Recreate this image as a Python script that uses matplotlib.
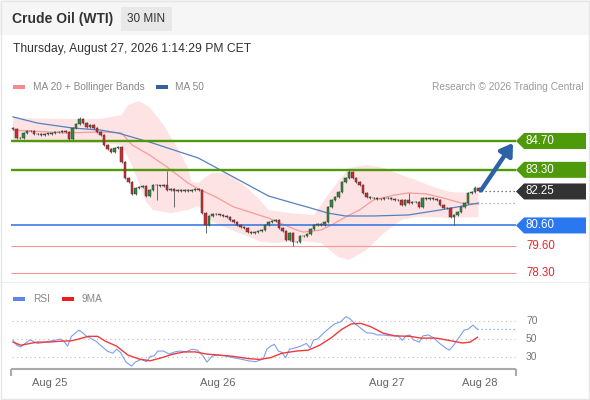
import numpy as np
import matplotlib.pyplot as plt
from matplotlib.patches import Polygon, Rectangle

plt.rcParams['font.family'] = ['Liberation Sans', 'DejaVu Sans']

# ---------------- data ----------------
# 30-min closes, Aug 25 -> Aug 27
closes = [85.28, 84.85, 84.83, 85.09, 85.19, 85.17, 85.04, 85.03, 84.99, 85.04,
          85.05, 85.09, 85.14, 85.12, 85.19, 85.14, 84.80, 85.33, 85.53, 85.77,
          85.58, 85.38, 85.48, 85.33, 85.14, 84.99, 84.51, 84.31, 84.17, 84.36,
          84.41, 83.68, 82.90, 82.71, 82.13, 82.42, 82.47, 82.52, 82.03, 82.32,
          82.56, 82.54, 82.52, 82.56, 82.32, 82.37, 82.27, 82.32, 82.28, 82.33,
          82.27, 82.32, 82.37, 82.32, 81.20, 80.62, 81.06, 81.16, 81.14, 81.11,
          81.06, 81.01, 80.87, 80.77, 80.62, 80.53, 80.48, 80.28, 80.23, 80.28,
          80.33, 80.38, 80.62, 80.77, 80.82, 80.87, 80.48, 80.33, 79.89, 80.23,
          79.80, 79.78, 80.09, 80.07, 80.19, 80.43, 80.62, 80.67, 80.62, 80.77,
          81.50, 81.84, 81.98, 82.22, 82.71, 82.90, 83.20, 82.90, 82.71, 82.56,
          82.18, 81.98, 81.93, 81.92, 81.88, 81.87, 81.93, 81.92, 81.88, 81.84,
          81.83, 81.59, 81.84, 81.69, 81.74, 81.73, 81.50, 81.93, 81.88, 81.93,
          81.88, 81.84, 81.59, 81.45, 81.44, 81.01, 81.11, 81.25, 81.50, 81.69,
          82.18, 82.22, 82.42, 82.25]
first_open = 85.35
long_highs = {0: 85.40, 19: 85.87, 41: 82.60, 44: 83.24, 96: 83.30, 113: 82.18, 132: 82.52}
long_lows = {1: 84.78, 41: 81.84, 46: 81.50, 55: 80.23, 80: 79.60, 125: 80.95, 126: 80.62}

ma20_idx = [0, 15, 25, 31, 34, 39, 44, 50, 53, 58, 63, 73, 81, 83, 88, 91, 95, 99, 103, 109, 113, 118, 123, 128, 133]
ma20_val = [85.23, 85.09, 85.14, 85.09, 84.51, 84.02, 83.44, 82.66, 82.37, 81.98, 81.50, 80.96, 80.38, 80.28,
            80.38, 80.62, 81.01, 81.35, 81.84, 82.08, 82.18, 82.13, 81.93, 81.69, 81.64]
ma50_idx = [0, 7, 17, 25, 30, 33, 39, 53, 63, 73, 81, 85, 90, 95, 103, 113, 122, 127, 133]
ma50_val = [85.87, 85.57, 85.33, 85.23, 85.09, 84.94, 84.65, 83.87, 82.95, 82.03, 81.64, 81.45, 81.20, 81.06,
            81.06, 81.11, 81.35, 81.50, 81.69]
bb_up_idx = [0, 13, 25, 31, 33, 36, 39, 43, 47, 50, 51, 53, 55, 57, 61, 66, 70, 73, 79, 86, 91, 96, 101, 106,
             111, 115, 120, 125, 133]
bb_up_val = [85.82, 85.77, 85.77, 85.96, 86.45, 86.64, 86.35, 85.48, 84.36, 83.39, 82.71, 82.66, 82.95, 83.15,
             83.15, 82.56, 81.93, 81.35, 81.20, 81.11, 82.32, 83.39, 83.53, 83.39, 83.05, 82.81, 82.47, 82.22, 82.18]
bb_lo_idx = [0, 13, 25, 31, 34, 38, 40, 45, 50, 53, 55, 57, 61, 66, 71, 75, 82, 88, 93, 96, 101, 106, 111, 115,
             120, 125, 133]
bb_lo_val = [84.65, 84.60, 84.60, 84.51, 83.53, 81.74, 81.35, 81.20, 81.35, 81.54, 81.25, 80.77, 80.48, 80.14,
             79.80, 79.75, 79.85, 79.75, 79.07, 78.92, 79.41, 80.23, 80.87, 81.01, 81.01, 80.96, 81.01]

levels = [84.70, 83.30, 82.25, 80.60, 79.60, 78.30]
level_kind = ['res', 'res', 'last', 'sup', 'minor', 'minor']

rsi_idx = [0, 1.1, 2.2, 3.8, 4.9, 5.9, 7.0, 8.6, 10.2, 11.9, 13.5, 14.5, 15.6, 16.7, 17.8, 18.8, 19.9, 21.0,
           22.1, 23.7, 25.3, 26.9, 28.5, 29.6, 30.7, 32.3, 33.9, 34.9, 36.6, 38.2, 39.2, 40.3, 41.4, 43.0, 44.6,
           46.2, 47.8, 49.5, 51.1, 52.7, 54.3, 55.4, 57.0, 58.6, 60.7, 62.9, 65.0, 67.2, 69.3, 71.5, 72.5, 73.6,
           74.7, 75.8, 76.8, 77.9, 79.0, 80.6, 82.2, 83.8, 84.9, 85.9, 87.0, 88.7, 90.3, 91.9, 93.5, 95.1, 96.2,
           97.8, 99.4, 101.0, 102.6, 104.2, 105.8, 108.0, 110.1, 111.2, 112.3, 113.4, 114.4, 116.1, 117.1, 118.7,
           120.3, 121.9, 123.6, 124.6, 125.7, 127.3, 128.9, 130.0, 131.4, 132.7]
rsi_val = [48.5, 43, 41, 46, 49, 47, 45, 46, 47.5, 48.5, 50, 47.5, 42, 53, 56.5, 60, 57, 53, 51, 47.5, 42, 36.5,
           34, 38.5, 35, 24, 19.5, 24, 27, 24.5, 30.5, 31, 36.5, 36.5, 33, 35.5, 36.5, 35.5, 38.5, 37.5, 31, 24,
           31, 32, 31, 29, 27.5, 25.5, 24.5, 27.5, 38.5, 42, 44, 36.5, 35, 29, 38.5, 40, 42, 45, 40, 49, 50, 56.5,
           62, 67, 69, 75, 73, 67, 62, 57, 56.5, 54.5, 54.5, 53.5, 53.5, 48.5, 53.5, 54.5, 49, 46.5, 53.5, 54.5,
           51, 45, 40, 37.5, 42, 51, 60, 61, 65.5, 61]
rsi_ma_idx = [0, 2.2, 4.9, 7.0, 10.2, 13.5, 16.7, 18.8, 21.5, 24.2, 26.4, 29.6, 32.8, 36.0, 39.2, 42.5, 45.7,
              48.9, 52.1, 55.4, 58.6, 62.9, 67.2, 70.4, 73.6, 76.8, 81.1, 84.4, 87.6, 90.8, 94.0, 96.7, 99.4,
              102.1, 105.8, 109.1, 113.4, 116.6, 120.9, 125.2, 128.4, 130.6, 132.7]
rsi_ma_val = [46.5, 43, 45, 46.5, 46.5, 47.5, 48, 50, 53, 53, 47.5, 42, 32, 27.5, 25.5, 29, 33, 35.5, 35.5, 33,
              32, 30.5, 28, 27, 29, 34, 36.5, 37.5, 43, 51, 61, 67, 67.5, 64, 56.5, 53.5, 53, 51, 51, 48, 45.5,
              46.5, 52]
rsi_grid = [70, 50, 30]
day_ticks = [10.6, 58.6, 106.9, 133.3]
day_labels = ['Aug 25', 'Aug 26', 'Aug 27', 'Aug 28']

# ---------------- layout helpers (pixels of the 590x400 card) ----------------
W, H = 590, 400
PX_PER_BAR = 3.5


def bx(px):
    # pixel x -> bar index
    return (px - 13) / PX_PER_BAR


def price_of(py):
    return 84.70 - (py - 141) / 20.6


def rsi_of(py):
    return 50 - (py - 339) / 0.89


fig = plt.figure(figsize=(W / 100, H / 100), dpi=100)
fig.patch.set_facecolor('white')

# card frame + header band
fig.patches.append(Rectangle((0, 1 - 35 / H), 1, 35 / H, transform=fig.transFigure,
                             facecolor='#f6f6f6', edgecolor='none', zorder=0))
fig.patches.append(Rectangle((1 / W, 1 / H), 1 - 2 / W, 1 - 2 / H, transform=fig.transFigure,
                             facecolor='none', edgecolor='#e6e6e6', lw=1, zorder=5))
fig.patches.append(Rectangle((0, 1 - 283 / H), 1, 0.6 / H, transform=fig.transFigure,
                             facecolor='#eeeeee', edgecolor='none', zorder=1))


def ftext(px, py, s, **kw):
    fig.text(px / W, 1 - py / H, s, **kw)


ftext(12, 19, 'Crude Oil (WTI)', fontsize=10, fontweight='bold', color='#333333', va='center')
fig.patches.append(Rectangle((121 / W, 1 - 31 / H), 51 / W, 24 / H, transform=fig.transFigure,
                             facecolor='#e8e8e8', edgecolor='none', zorder=1))
ftext(146.5, 19, '30 MIN', fontsize=8.5, color='#333333', va='center', ha='center')
ftext(13, 49, 'Thursday, August 27, 2026 1:14:29 PM CET', fontsize=8.7, color='#333333', va='center')

# top legend
fig.patches.append(Rectangle((13 / W, 1 - 88.5 / H), 12 / W, 4 / H, transform=fig.transFigure,
                             facecolor='#f88a8a', edgecolor='none'))
ftext(33, 86.5, 'MA 20 + Bollinger Bands', fontsize=7.3, color='#888888', va='center')
fig.patches.append(Rectangle((156 / W, 1 - 88.5 / H), 12 / W, 4 / H, transform=fig.transFigure,
                             facecolor='#33609e', edgecolor='none'))
ftext(175, 86.5, 'MA 50', fontsize=7.3, color='#888888', va='center')
ftext(583, 86.5, 'Research \u00a9 2026 Trading Central', fontsize=7.3, color='#999999', va='center', ha='right')

# ---------------- price panel ----------------
ax = fig.add_axes([10 / W, 1 - 280 / H, 578 / W, 180 / H])
ax.set_xlim(bx(10), bx(588))
ax.set_ylim(price_of(280), price_of(100))
ax.axis('off')

n = len(closes)
x = np.arange(n)
c = np.array(closes)
o = np.r_[first_open, c[:-1]]
hi = np.maximum(o, c) + 0.04
lo = np.minimum(o, c) - 0.04
for k, v in long_highs.items():
    hi[k] = v
for k, v in long_lows.items():
    lo[k] = v

# bollinger band + moving averages
ax.fill(np.r_[bb_up_idx, bb_lo_idx[::-1]], np.r_[bb_up_val, bb_lo_val[::-1]],
        color='#fde3e3', lw=0, zorder=1)
ax.plot(ma20_idx, ma20_val, color='#f59c9c', lw=0.9, zorder=2)
ax.plot(ma50_idx, ma50_val, color='#5580bf', lw=0.9, zorder=2)

# levels
x_tag = bx(516)
x_end = bx(586)
x_txt = bx(526)
for lv, kind in zip(levels, level_kind):
    if kind == 'res':
        ax.hlines(lv, bx(11), x_tag, color='#4f9a0a', lw=1.7, zorder=3)
        tag_col = '#4f9a0a'
    elif kind == 'sup':
        ax.hlines(lv, bx(11), x_tag, color='#3c7be0', lw=1.2, zorder=3)
        tag_col = '#2a78f0'
    elif kind == 'last':
        ax.hlines(lv, n - 0.2, x_tag, color='#555555', lw=0.9, linestyles=(0, (1, 2.2)), zorder=3)
        tag_col = '#333333'
    else:
        ax.hlines(lv, bx(11), x_tag, color='#f79494', lw=0.8, zorder=3)
        ax.text(x_txt, lv, f'{lv:.2f}', color='#e8262b', fontsize=8.3, va='center', ha='left')
        continue
    hh = 8 / 20.6
    notch = 8 / PX_PER_BAR
    ax.add_patch(Polygon([(x_tag, lv), (x_tag + notch, lv + hh), (x_end, lv + hh),
                          (x_end, lv - hh), (x_tag + notch, lv - hh)],
                         closed=True, facecolor=tag_col, edgecolor='none', zorder=4))
    ax.text(x_txt, lv, f'{lv:.2f}', color='white', fontsize=8.3, va='center', ha='left', zorder=5)

# MA50 dotted extension
ax.hlines(ma50_val[-1], n - 0.2, x_tag, color='#7f9ccc', lw=0.9, linestyles=(0, (1, 2.2)), zorder=3)

# candles
up = c >= o
body_col = np.where(up, '#2f8a3c', '#d8262c')
ax.vlines(x, lo, hi, color='#555555', lw=0.6, zorder=5)
ax.bar(x, np.maximum(np.abs(c - o), 0.025), bottom=np.minimum(o, c), width=0.78,
       color=body_col, edgecolor='#3a3a3a', linewidth=0.35, zorder=6)

# projection arrow
ax.annotate('', xy=(bx(513), price_of(143)), xytext=(n - 0.3, closes[-1] + 0.05),
            arrowprops=dict(arrowstyle='-|>,head_length=0.7,head_width=0.45', lw=3.2,
                            color='#2d62a8', shrinkA=0, shrinkB=0), zorder=7)

# ---------------- RSI panel ----------------
ax2 = fig.add_axes([10 / W, 1 - 392 / H, 578 / W, 97 / H])
ax2.set_xlim(bx(10), bx(588))
ax2.set_ylim(rsi_of(392), rsi_of(295))
ax2.axis('off')

ax2.hlines(rsi_grid, bx(12), bx(515), color='#bbbbbb', lw=0.8, linestyles=(0, (1, 3)))
for g in rsi_grid:
    ax2.text(x_txt, g, str(g), color='#777777', fontsize=7.5, va='center', ha='left')

ax2.plot(rsi_idx, rsi_val, color='#7a9ff0', lw=0.8, zorder=3)
ax2.plot(rsi_ma_idx, rsi_ma_val, color='#f03a3a', lw=1.0, zorder=4)
ax2.hlines(rsi_val[-1], rsi_idx[-1], bx(515), color='#7a9ff0', lw=0.9, linestyles=(0, (1, 2.2)))

base = rsi_of(369.3)
ax2.hlines(base, bx(11), bx(515.5), color='#aaaaaa', lw=1.5)
ax2.vlines([bx(11), bx(515.5)], rsi_of(376), base, color='#aaaaaa', lw=1.5)
for t, lab in zip(day_ticks, day_labels):
    ax2.text(t, rsi_of(383), lab, color='#666666', fontsize=8, ha='center', va='center')

# RSI legend
fig.patches.append(Rectangle((13 / W, 1 - 300.5 / H), 12 / W, 4 / H, transform=fig.transFigure,
                             facecolor='#5f86e6', edgecolor='none'))
ftext(33, 298.5, 'RSI', fontsize=7.3, color='#888888', va='center')
fig.patches.append(Rectangle((62 / W, 1 - 300.5 / H), 12 / W, 4 / H, transform=fig.transFigure,
                             facecolor='#ee1c1c', edgecolor='none'))
ftext(82, 298.5, '9MA', fontsize=7.3, color='#888888', va='center')

plt.savefig('out.png', dpi=100)
